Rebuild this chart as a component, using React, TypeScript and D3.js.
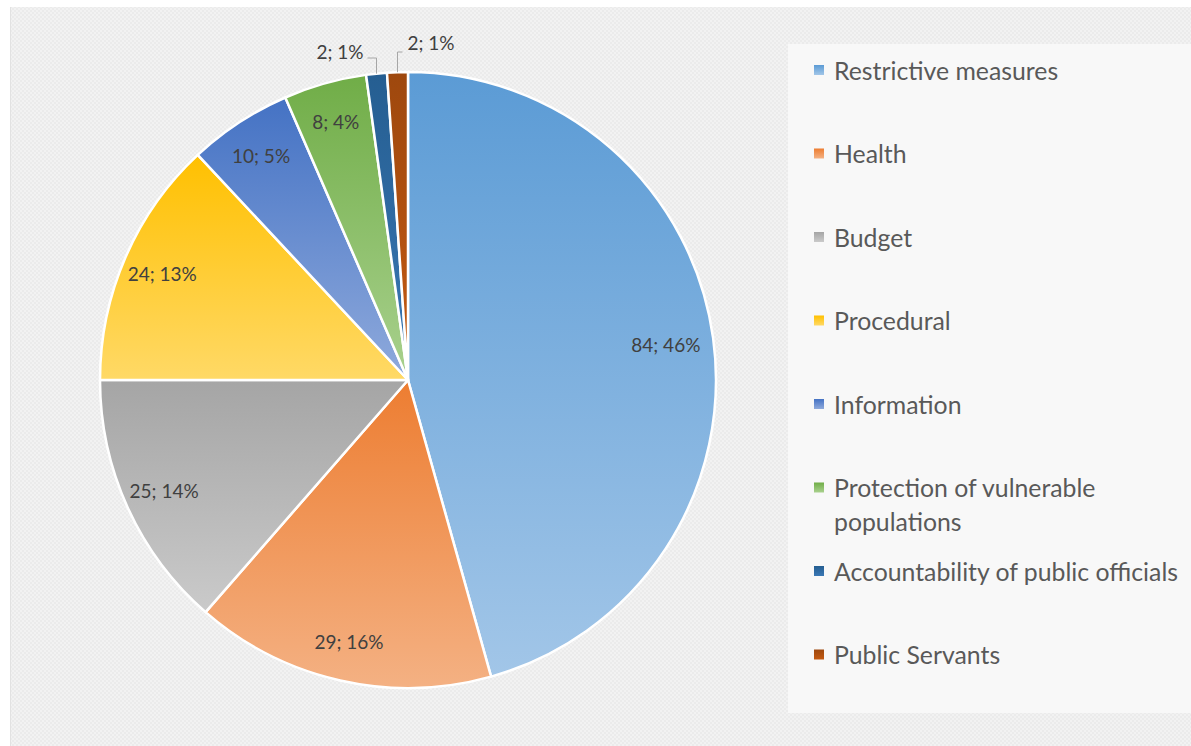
import React from "react";
import * as d3 from "d3";

const categories = [
  "Restrictive measures",
  "Health",
  "Budget",
  "Procedural",
  "Information",
  "Protection of vulnerable populations",
  "Accountability of public officials",
  "Public Servants",
];
const legendLines = [
  ["Restrictive measures"],
  ["Health"],
  ["Budget"],
  ["Procedural"],
  ["Information"],
  ["Protection of vulnerable", "populations"],
  ["Accountability of public officials"],
  ["Public Servants"],
];
const values = [84, 29, 25, 24, 10, 8, 2, 2];
const baseColors = ["#5B9BD5", "#ED7D31", "#A5A5A5", "#FFC000", "#4472C4", "#70AD47", "#255E91", "#9E480E"];
const lightColors = ["#A2C6E8", "#F4B183", "#CACACA", "#FFD966", "#8FAADC", "#A9D18E", "#3A78B5", "#C55A11"];

const W = 1191;
const H = 746;
const cx = 408;
const cy = 380;
const R = 308;

export default function App() {
  const total = d3.sum(values);
  const pct = d3.format(".0%");
  const pie = d3.pie<number>().sort(null).startAngle(0).endAngle(2 * Math.PI)(values);
  const arc = d3.arc<d3.PieArcDatum<number>>().innerRadius(0).outerRadius(R);
  const labelArc = d3.arc<d3.PieArcDatum<number>>().innerRadius(R * 0.87).outerRadius(R * 0.87);
  const bigLabelArc = d3.arc<d3.PieArcDatum<number>>().innerRadius(R * 0.845).outerRadius(R * 0.845);

  const legendX = 788;
  const legendY = 44;
  const legendW = W - legendX;
  const legendH = 713 - legendY;
  const itemY = d3.scaleLinear().domain([0, categories.length - 1]).range([70, 654.5]);

  let smallCount = 0;

  return (
    <svg
      width={W}
      height={H}
      style={{ position: "absolute", left: 0, top: 0, display: "block" }}
      fontFamily="Lato, 'Open Sans', sans-serif"
    >
      <defs>
        <pattern id="chk" width="4" height="4" patternUnits="userSpaceOnUse">
          <rect width="4" height="4" fill="#F2F2F2" />
          <rect width="2" height="2" fill="#EBEBEB" />
          <rect x="2" y="2" width="2" height="2" fill="#EBEBEB" />
        </pattern>
        {values.map((_, i) => (
          <linearGradient key={i} id={`g${i}`} x1="0" y1="0" x2="0" y2="1">
            <stop offset="0" stopColor={baseColors[i]} />
            <stop offset="1" stopColor={lightColors[i]} />
          </linearGradient>
        ))}
      </defs>
      <rect width={W} height={H} fill="#FFFFFF" />
      <rect x={10} y={7} width={W} height={H} fill="url(#chk)" />
      <line x1={10.5} y1={7} x2={10.5} y2={H} stroke="#E2E2E2" strokeWidth={1} />

      <g transform={`translate(${cx},${cy})`}>
        {pie.map((d, i) => (
          <path key={i} d={arc(d) || ""} fill={`url(#g${i})`} stroke="#FFFFFF" strokeWidth={2.5} strokeLinejoin="round" />
        ))}
        {pie.map((d, i) => {
          const text = `${values[i]}; ${pct(values[i] / total)}`;
          const frac = values[i] / total;
          if (frac >= 0.02) {
            const [lx, ly] = (frac > 0.4 ? bigLabelArc : labelArc).centroid(d);
            return (
              <text key={i} x={lx} y={ly} textAnchor="middle" dominantBaseline="central" fontSize={19} fill="#404040">
                {text}
              </text>
            );
          }
          const mid = (d.startAngle + d.endAngle) / 2;
          const px = R * Math.sin(mid);
          const py = -R * Math.cos(mid);
          const left = smallCount % 2 === 0;
          smallCount++;
          const ey = -R + (left ? -14 : -20);
          const hx = left ? px - 9 : px + 5;
          return (
            <g key={i}>
              <polyline points={`${px},${py} ${px},${ey} ${hx},${ey}`} fill="none" stroke="#A6A6A6" strokeWidth={1} />
              <text
                x={left ? px - 13 : px + 10}
                y={left ? ey + 1 : ey - 2}
                textAnchor={left ? "end" : "start"}
                fontSize={19}
                fill="#404040"
              >
                {text}
              </text>
            </g>
          );
        })}
      </g>

      <rect x={legendX} y={legendY} width={legendW} height={legendH} fill="#F8F8F8" />
      {categories.map((c, i) => {
        const y = itemY(i);
        return (
          <g key={c}>
            <rect x={814} y={y - 5} width={10} height={10} fill={`url(#g${i})`} />
            {legendLines[i].map((line, j) => (
              <text key={j} x={834} y={y + j * 34} dominantBaseline="central" fontSize={24.8} fill="#595959">
                {line}
              </text>
            ))}
          </g>
        );
      })}
    </svg>
  );
}
